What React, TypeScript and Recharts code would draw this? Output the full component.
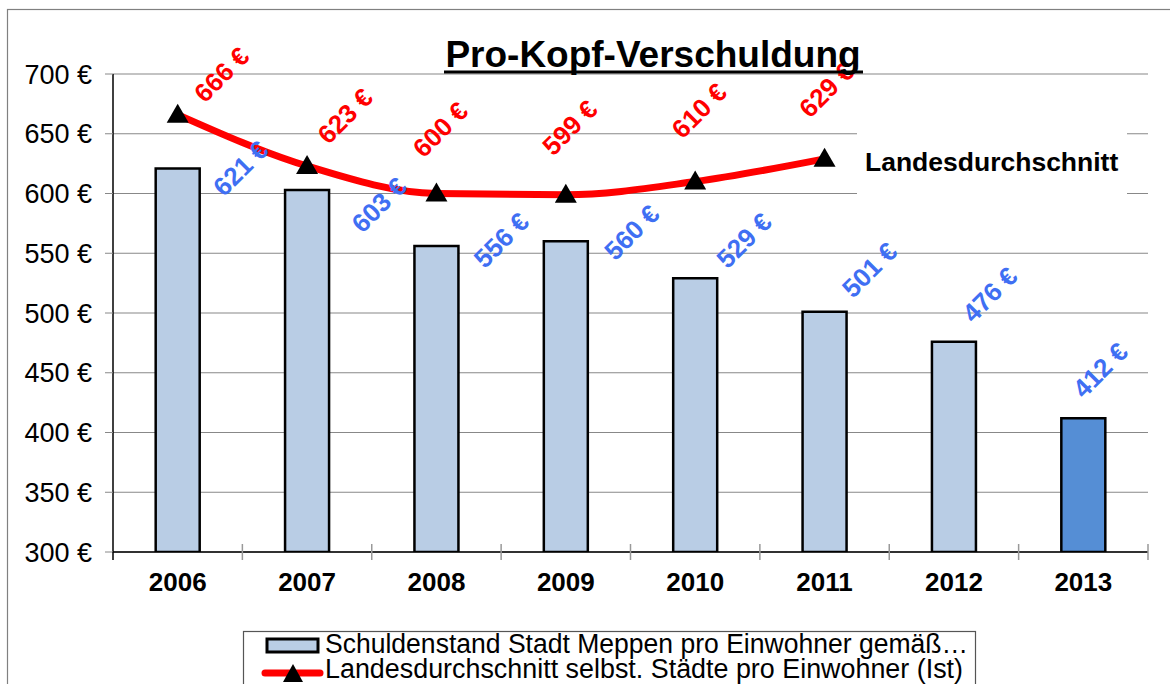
import React from "react";
import {
  ComposedChart,
  Bar,
  Line,
  XAxis,
  YAxis,
  CartesianGrid,
  LabelList,
  Cell,
} from "recharts";

const years = ["2006", "2007", "2008", "2009", "2010", "2011", "2012", "2013"];
const meppen = [621, 603, 556, 560, 529, 501, 476, 412];
const landes: (number | null)[] = [666, 623, 600, 599, 610, 629, null, null];
const yTicks = [300, 350, 400, 450, 500, 550, 600, 650, 700];

// label placement tweaks (relative offsets, styling only)
const barLabelDx = [63, 72, 65, 66, 49, 45, 36, 17];
const barLabelDy = [0, 15, -6, -9, -38, -42, -47, -48];
const lineLabelDx = [44, 38, 4, 4, 4, 2];
const lineLabelDy = [-40, -50, -64, -67, -71, -69];

const data = years.map((y, i) => ({ year: y, meppen: meppen[i], landes: landes[i] }));

const FONT = "'Liberation Sans', Arial, sans-serif";
const LIGHT = "#b9cde5";
const DARK = "#558ed5";
const BLUE_TXT = "#3f6ff3";
const LABEL_FS = 26;

const Triangle = (props: any) => {
  const { cx, cy } = props;
  if (cx == null || cy == null || props.value == null) return null;
  const w = 11;
  return (
    <polygon
      points={`${cx - w},${cy + 8} ${cx + w},${cy + 8} ${cx},${cy - 11}`}
      fill="#000"
    />
  );
};

const BarLabel = (props: any) => {
  const { x, y, width, value, index } = props;
  const cx = x + width / 2 + barLabelDx[index];
  const cy = y + barLabelDy[index];
  return (
    <text
      x={cx}
      y={cy}
      textAnchor="middle"
      dominantBaseline="central"
      transform={`rotate(-45 ${cx} ${cy})`}
      fill={BLUE_TXT}
      fontFamily={FONT}
      fontWeight="bold"
      fontSize={LABEL_FS}
    >
      {`${value} €`}
    </text>
  );
};

const LineLabel = (props: any) => {
  const { x, y, value, index } = props;
  if (value == null) return null;
  const cx = x + lineLabelDx[index];
  const cy = y + lineLabelDy[index];
  return (
    <text
      x={cx}
      y={cy}
      textAnchor="middle"
      dominantBaseline="central"
      transform={`rotate(-45 ${cx} ${cy})`}
      fill="#ff0000"
      fontFamily={FONT}
      fontWeight="bold"
      fontSize={LABEL_FS}
    >
      {`${value} €`}
    </text>
  );
};

const XTick = (props: any) => {
  const { x, y, payload, index } = props;
  const off = payload.offset || 0;
  return (
    <g>
      <line x1={x + off} x2={x + off} y1={y - 8} y2={y + 8} stroke="#999" strokeWidth={1.5} />
      {index === 0 && (
        <line x1={x - off} x2={x - off} y1={y} y2={y + 8} stroke="#000" strokeWidth={1.5} />
      )}
      <text
        x={x}
        y={y + 30}
        textAnchor="middle"
        dominantBaseline="central"
        fontFamily={FONT}
        fontWeight="bold"
        fontSize={26}
        fill="#000"
      >
        {payload.value}
      </text>
    </g>
  );
};

export default function App() {
  return (
    <div style={{ position: "absolute", left: 0, top: 0, width: 1170, height: 684, overflow: "hidden", background: "#fff" }}>
      <ComposedChart
        width={1170}
        height={684}
        data={data}
        margin={{ top: 74, right: 22, bottom: 72, left: 0 }}
        barCategoryGap="33%"
      >
        <CartesianGrid vertical={false} stroke="#888" strokeWidth={1.2} yAxisId="l" />
        <XAxis
          dataKey="year"
          height={60}
          axisLine={{ stroke: "#000", strokeWidth: 1.5 }}
          tickLine={false}
          tickSize={0}
          tickMargin={0}
          tick={<XTick />}
          interval={0}
        />
        <YAxis
          yAxisId="l"
          width={113}
          domain={[300, 700]}
          ticks={yTicks}
          axisLine={{ stroke: "#000", strokeWidth: 1.5 }}
          tickLine={{ stroke: "#888" }}
          tickSize={8}
          tickMargin={13}
          tick={{ fontFamily: FONT, fontSize: 27, fill: "#000" }}
          tickFormatter={(v: number) => `${v} €`}
          allowDataOverflow
        />
        <YAxis
          yAxisId="r"
          orientation="right"
          width={0}
          domain={[300, 700]}
          tick={false}
          tickLine={false}
          axisLine={{ stroke: "#888", strokeWidth: 1.5 }}
        />
        <Bar
          yAxisId="l"
          dataKey="meppen"
          stroke="#000"
          strokeWidth={2.5}
          isAnimationActive={false}
        >
          {data.map((d, i) => (
            <Cell key={d.year} fill={i === data.length - 1 ? DARK : LIGHT} />
          ))}
          <LabelList dataKey="meppen" content={<BarLabel />} />
        </Bar>
        <Line
          yAxisId="l"
          dataKey="landes"
          stroke="#ff0000"
          strokeWidth={7}
          type="monotone"
          dot={<Triangle />}
          activeDot={false}
          connectNulls={false}
          isAnimationActive={false}
        >
          <LabelList dataKey="landes" content={<LineLabel />} />
        </Line>
      </ComposedChart>
      <svg
        width={1170}
        height={684}
        style={{ position: "absolute", left: 0, top: 0, pointerEvents: "none" }}
      >
        <rect x={7.5} y={9.5} width={1200} height={700} fill="none" stroke="#808080" strokeWidth={1.2} />
        <text
          x={653}
          y={67}
          textAnchor="middle"
          fontFamily={FONT}
          fontWeight="bold"
          fontSize={37}
          fill="#000"
        >
          Pro-Kopf-Verschuldung
        </text>
        <line x1={444} x2={863} y1={72} y2={72} stroke="#000" strokeWidth={3} />
        <rect x={857} y={127} width={270} height={70} fill="#fff" />
        <text
          x={865}
          y={171}
          fontFamily={FONT}
          fontWeight="bold"
          fontSize={26.5}
          fill="#000"
        >
          Landesdurchschnitt
        </text>
        <rect x={243.5} y={631.5} width={732} height={80} fill="#fff" stroke="#555" strokeWidth={1.2} />
        <rect x={267} y={639} width={51} height={13} fill={LIGHT} stroke="#000" strokeWidth={3} />
        <text
          x={325}
          y={653}
          fontFamily={FONT}
          fontSize={27}
          fill="#000"
          textLength={643}
          lengthAdjust="spacingAndGlyphs"
        >
          Schuldenstand Stadt Meppen pro Einwohner gemäß…
        </text>
        <line x1={265} x2={320} y1={673} y2={673} stroke="#ff0000" strokeWidth={7} strokeLinecap="round" />
        <polygon points="283,682 303,682 293,664" fill="#000" />
        <text
          x={325}
          y={678}
          fontFamily={FONT}
          fontSize={27}
          fill="#000"
          textLength={638}
          lengthAdjust="spacingAndGlyphs"
        >
          Landesdurchschnitt selbst. Städte pro Einwohner (Ist)
        </text>
      </svg>
    </div>
  );
}
